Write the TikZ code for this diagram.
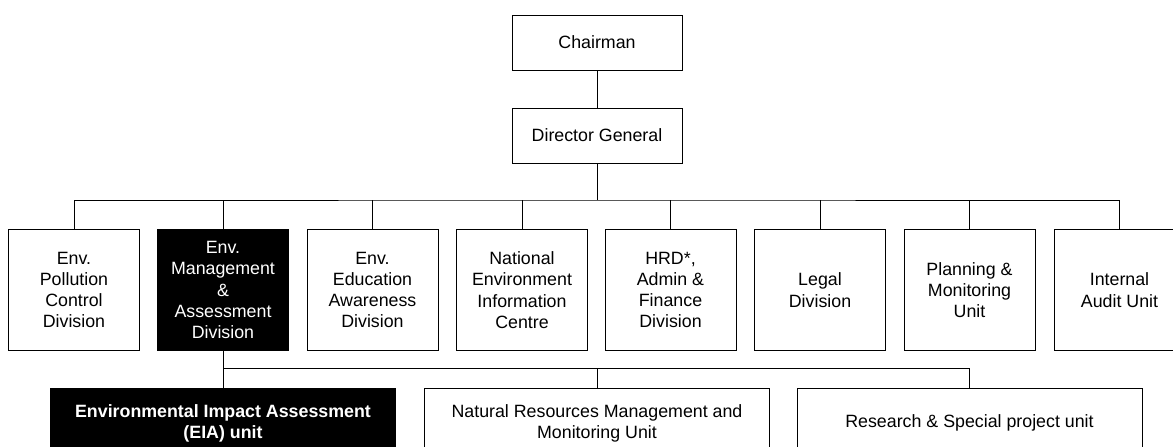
\documentclass[tikz,border=0pt]{standalone}
\usepackage{fontspec}
\setmainfont{Liberation Sans}

\begin{document}
\begin{tikzpicture}[x=1pt,y=-1pt,
  box/.style={draw,line width=1pt,align=center,inner sep=0pt,
    font=\fontsize{17.8}{21.3}\selectfont},
  topbox/.style={box,minimum width=170pt,minimum height=55pt},
  divbox/.style={box,minimum width=131pt,minimum height=121.5pt},
  unitbox/.style={box,minimum width=345pt,minimum height=70pt},
  dark/.style={fill=black,text=white},
  wire/.style={line width=1pt}]
  \useasboundingbox (0,0) rectangle (1173,447);
  \clip (0,0) rectangle (1173,447);

  \node[topbox] (chair) at (597,42.5) {Chairman};
  \node[topbox] (dg) at (597,135.5) {Director General};

  \node[divbox] (pollution) at (74,290) {Env.\\Pollution\\Control\\Division};
  \node[divbox,dark] (mgmt) at (223,290) {Env.\\Management\\\&\\Assessment\\Division};
  \node[divbox] (education) at (372.5,290) {Env.\\Education\\Awareness\\Division};
  \node[divbox] (info) at (522,290) {National\\Environment\\Information\\Centre};
  \node[divbox] (hrd) at (670.5,290) {HRD*,\\Admin \&\\Finance\\Division};
  \node[divbox] (legal) at (820,290) {Legal\\Division};
  \node[divbox] (planning) at (969.5,290) {Planning \&\\Monitoring\\Unit};
  \node[divbox] (audit) at (1119.5,290) {Internal\\Audit Unit};

  \node[unitbox,dark,font=\fontsize{17.8}{21}\selectfont\bfseries] (eia) at (223,423)
    {Environmental Impact Assessment\\(EIA) unit};
  \node[unitbox,font=\fontsize{17.8}{21}\selectfont] (nrm) at (597,423)
    {Natural Resources Management and\\Monitoring Unit};
  \node[unitbox] (research) at (969.5,423) {Research \& Special project unit};

  \coordinate (bus) at (597,200);
  \coordinate (subbus) at (597,368);

  \draw[wire] (chair) -- (dg);
  \draw[wire] (dg) -- (bus);
  \draw[wire] (pollution.north) |- (bus) -| (audit.north);
  \foreach \n in {mgmt,education,info,hrd,legal,planning}
    \draw[wire] (\n.north) -- (\n.north |- bus);

  \draw[wire] (mgmt) -- (eia);
  \draw[wire] (eia.north |- subbus) -| (research.north);
  \draw[wire] (nrm.north) -- (nrm.north |- subbus);
\end{tikzpicture}
\end{document}
